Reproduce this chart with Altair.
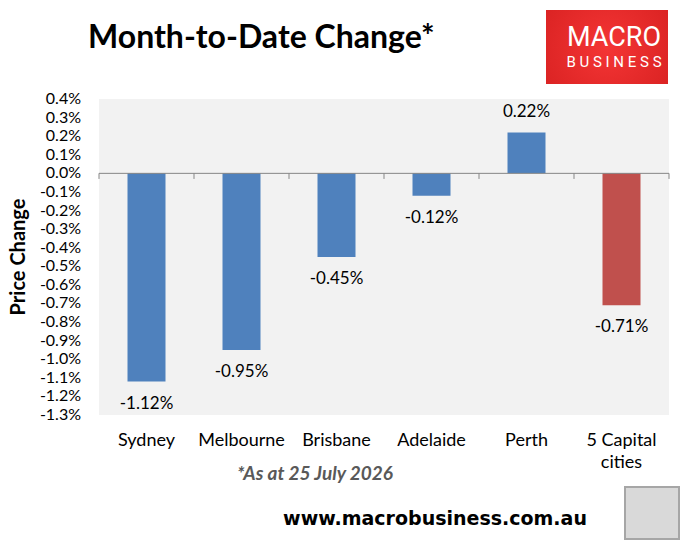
import altair as alt
import pandas as pd

cities = ["Sydney", "Melbourne", "Brisbane", "Adelaide", "Perth", "5 Capital cities"]
changes = [-1.12, -0.95, -0.45, -0.12, 0.22, -0.71]
bar_colors = ["#4F81BD", "#4F81BD", "#4F81BD", "#4F81BD", "#4F81BD", "#C0504D"]
y_ticks = [round(-1.3 + 0.1 * i, 1) for i in range(18)]

FONT = "Lato"
W, H = 570, 316

df = pd.DataFrame({"city": cities, "change": changes, "color": bar_colors})
ticks_df = pd.DataFrame({"change": y_ticks})
one = pd.DataFrame({"a": [0]})

yscale = alt.Scale(domain=[-1.3, 0.4], nice=False, zero=False)

xenc = alt.X(
    "city:N", sort=cities,
    scale=alt.Scale(paddingInner=0, paddingOuter=0),
    axis=alt.Axis(
        title=None, domain=False, ticks=False, labelAngle=0,
        labelFont=FONT, labelFontSize=18, labelColor="#000000",
        labelPadding=16, labelLineHeight=22,
        labelExpr="datum.value == '5 Capital cities' ? ['5 Capital', 'cities'] : datum.value",
    ),
)
yenc = alt.Y(
    "change:Q",
    scale=yscale,
    axis=alt.Axis(
        values=y_ticks, grid=False, labels=False, title=None,
        domainColor="#868686", tickColor="#868686", tickSize=5,
    ),
)

bars = alt.Chart(df).mark_bar(width=alt.RelativeBandSize(0.4)).encode(
    x=xenc, y=yenc, y2=alt.datum(0),
    color=alt.Color("color:N", scale=None),
)

ytick_labels = alt.Chart(ticks_df).transform_calculate(
    label="(datum.change < -0.0001 ? '-' : '') + format(abs(datum.change), '.1f') + '%'"
).mark_text(font=FONT, fontSize=16, color="#000000", align="right", baseline="middle", dx=-18).encode(
    x=alt.value(0), y=alt.Y("change:Q", scale=yscale, axis=None), text="label:N"
)

ytitle = alt.Chart(one).mark_text(
    text="Price Change", font=FONT, fontSize=20, fontWeight="bold", color="#000000",
    angle=270, align="center", baseline="middle",
).encode(x=alt.value(-80), y=alt.value(158))

zero = alt.Chart(one).mark_rule(color="#868686", strokeWidth=1).encode(y=alt.datum(0))

ticks_start = alt.Chart(df).mark_rule(color="#868686").encode(
    x=alt.X("city:N", sort=cities, bandPosition=0),
    y=alt.datum(0), y2=alt.datum(-0.03),
)
ticks_end = alt.Chart(df.tail(1)).mark_rule(color="#868686").encode(
    x=alt.X("city:N", sort=cities, bandPosition=1),
    y=alt.datum(0), y2=alt.datum(-0.03),
)

label_calc = "(datum.change < 0 ? '-' : '') + format(abs(datum.change), '.2f') + '%'"
neg_labels = alt.Chart(df).transform_filter("datum.change < 0").transform_calculate(
    label=label_calc
).mark_text(font=FONT, fontSize=17, color="#000000", baseline="middle", dy=22).encode(
    x=xenc, y=yenc, text="label:N"
)
pos_labels = alt.Chart(df).transform_filter("datum.change >= 0").transform_calculate(
    label=label_calc
).mark_text(font=FONT, fontSize=17, color="#000000", baseline="middle", dy=-20).encode(
    x=xenc, y=yenc, text="label:N"
)

title = alt.Chart(one).mark_text(
    text="Month-to-Date Change*", font=FONT, fontSize=32, fontWeight="bold",
    align="left", baseline="middle", color="#000000",
).encode(x=alt.value(-11), y=alt.value(-61))

logo_bg = alt.Chart(one).mark_rect(
    fill=alt.Gradient(
        gradient="radial", x1=0.5, y1=0.5, x2=0.5, y2=0.5, r1=0, r2=0.75,
        stops=[alt.GradientStop(color="#F43535", offset=0), alt.GradientStop(color="#D41E1E", offset=1)],
    )
).encode(x=alt.value(447), x2=alt.value(569), y=alt.value(-89), y2=alt.value(-15))
logo_t1 = alt.Chart(one).mark_text(
    text="MACRO", font="Roboto", fontSize=27, color="#FFFFFF", baseline="middle", align="center"
).encode(x=alt.value(515), y=alt.value(-61))
logo_t2 = alt.Chart(one).mark_text(
    text="B U S I N E S S", font="Roboto", fontSize=15, color="#FFFFFF", baseline="middle", align="center"
).encode(x=alt.value(515), y=alt.value(-37))

note = alt.Chart(one).mark_text(
    text="*As at 25 July 2026", font=FONT, fontSize=19, fontWeight="bold", fontStyle="italic",
    color="#595959", baseline="middle", align="center",
).encode(x=alt.value(216), y=alt.value(375))
url = alt.Chart(one).mark_text(
    text="www.macrobusiness.com.au", font="DejaVu Sans", fontSize=19, fontWeight="bold",
    color="#000000", baseline="middle", align="center",
).encode(x=alt.value(336), y=alt.value(420))
fox = alt.Chart(one).mark_rect(fill="#D9D9D9", stroke="#A6A6A6", strokeWidth=2).encode(
    x=alt.value(526), x2=alt.value(580), y=alt.value(388), y2=alt.value(440)
)

chart = alt.layer(
    bars, ytick_labels, ytitle, zero, ticks_start, ticks_end, neg_labels, pos_labels,
    title, logo_bg, logo_t1, logo_t2, note, url, fox,
).properties(
    width=W, height=H, autosize="none",
    padding={"left": 99, "top": 99, "right": 15, "bottom": 136},
    background="#FFFFFF",
).configure_view(fill="#F2F2F2", stroke=None)

chart.save("out.html", embed_options={"renderer": "svg", "actions": False})
